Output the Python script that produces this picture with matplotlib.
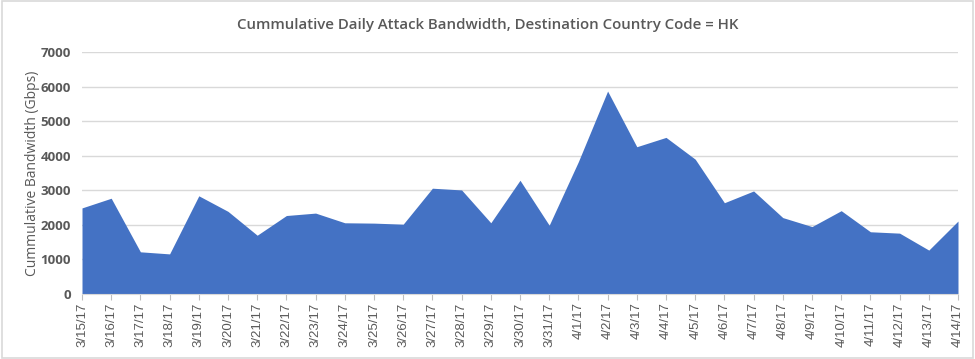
import matplotlib
matplotlib.use("Agg")
import matplotlib.pyplot as plt
from matplotlib.patches import Rectangle

dates = ["3/15/17", "3/16/17", "3/17/17", "3/18/17", "3/19/17", "3/20/17", "3/21/17",
         "3/22/17", "3/23/17", "3/24/17", "3/25/17", "3/26/17", "3/27/17", "3/28/17",
         "3/29/17", "3/30/17", "3/31/17", "4/1/17", "4/2/17", "4/3/17", "4/4/17",
         "4/5/17", "4/6/17", "4/7/17", "4/8/17", "4/9/17", "4/10/17", "4/11/17",
         "4/12/17", "4/13/17", "4/14/17"]
bandwidth = [2490, 2770, 1220, 1160, 2840, 2390, 1700, 2270, 2340, 2060, 2050, 2020,
             3060, 3010, 2060, 3290, 1990, 3830, 5870, 4260, 4530, 3900, 2640, 2980,
             2210, 1950, 2410, 1800, 1760, 1270, 2110]
yticks = [0, 1000, 2000, 3000, 4000, 5000, 6000, 7000]

W, H = 975, 359
fig = plt.figure(figsize=(W / 100, H / 100), dpi=100)
fig.patches.append(Rectangle((0.002, 0.003), 0.996, 0.994, transform=fig.transFigure,
                             fill=False, edgecolor="#D9D9D9", linewidth=1.2))
ax = fig.add_axes([82 / W, 65 / H, (958 - 82) / W, (294 - 52) / H])

x = list(range(len(dates)))
ax.fill_between(x, bandwidth, 0, color="#4472C4", linewidth=0, zorder=2)
ax.set_xlim(0, len(dates) - 1)
ax.set_ylim(0, 7000)
ax.set_yticks(yticks)
ax.set_yticklabels([str(v) for v in yticks], fontsize=9.5, color="#595959",
                   fontweight="bold", family="Open Sans")
ax.set_xticks(x)
ax.set_xticklabels(dates, rotation=90, fontsize=9.5, color="#595959",
                   family="Liberation Sans")
ax.grid(axis="y", color="#D9D9D9", linewidth=1, zorder=0)
ax.set_axisbelow(True)
for s in ["top", "right", "left"]:
    ax.spines[s].set_visible(False)
ax.spines["bottom"].set_color("#D9D9D9")
ax.tick_params(axis="y", length=0, pad=8)
ax.tick_params(axis="x", length=4, color="#BFBFBF", pad=2)

ax.set_ylabel("Cummulative Bandwidth (Gbps)", fontsize=10, color="#595959",
              family="Open Sans", labelpad=0)
fig.text(0.5, 1 - 25 / H, "Cummulative Daily Attack Bandwidth, Destination Country Code = HK",
         ha="center", va="center", fontsize=10.8, color="#595959", family="Open Sans",
         fontweight="semibold")

fig.savefig("out.png", dpi=100)
